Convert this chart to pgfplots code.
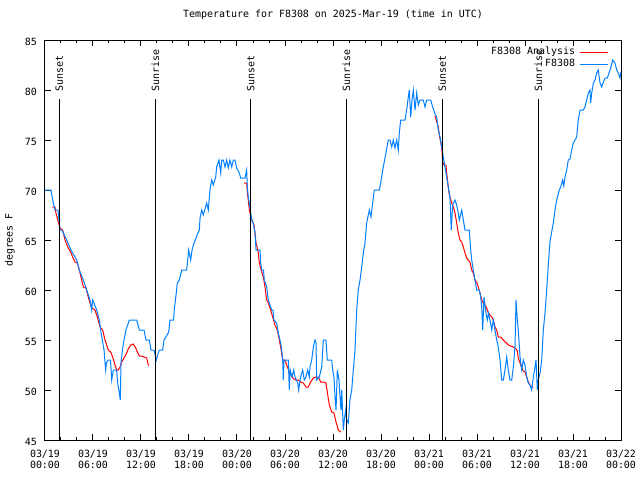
\documentclass[border=0pt]{standalone}
\usepackage{fontspec}
\setmainfont{DejaVu Sans Mono}
\usepackage{pgfplots}
\pgfplotsset{compat=1.18}
\definecolor{obsblue}{RGB}{0,128,255}
\definecolor{anared}{RGB}{255,0,0}
\newcommand{\gfont}{\fontsize{10}{11}\selectfont}
\begin{document}
\begin{tikzpicture}
\begin{axis}[
  at={(0,0)}, anchor=south west,
  scale only axis, width=576bp, height=400bp,
  xmin=0, xmax=72, ymin=45, ymax=85,
  xtick={0,6,...,72},
  xticklabels={{03/19\\00:00},{03/19\\06:00},{03/19\\12:00},{03/19\\18:00},
    {03/20\\00:00},{03/20\\06:00},{03/20\\12:00},{03/20\\18:00},
    {03/21\\00:00},{03/21\\06:00},{03/21\\12:00},{03/21\\18:00},{03/22\\00:00}},
  minor x tick num=2,
  ytick={45,50,...,85},
  /pgf/number format/assume math mode=true,
  tick align=inside,
  major tick length=6bp, minor tick length=3bp,
  tick style={black, line width=1bp},
  axis line style={line width=1bp},
  every tick label/.append style={font=\gfont},
  xticklabel style={align=center, inner sep=0pt, yshift=-9.5bp},
  yticklabel style={inner sep=0pt, xshift=-8bp, yshift=-2bp},
  ylabel={degrees F},
  ylabel style={at={(axis description cs:-0.0608,0.5)}, anchor=center, font=\gfont},
  title={Temperature for F8308 on 2025-Mar-19 (time in UTC)},
  title style={at={(axis description cs:0.5,1.048)}, anchor=center, font=\gfont},
  legend plot pos=right,
  legend cell align=right,
  legend image code/.code={\draw[#1] (0bp,0bp) -- (28bp,0bp);},
  legend style={draw=none, fill=none, at={(axis description cs:0.984,0.99)}, anchor=north east,
    font=\gfont, row sep=0bp,
    nodes={inner sep=1.5bp, text height=7bp, text depth=2bp},
    /tikz/every odd column/.append style={column sep=3bp}},
  every axis plot/.append style={line width=1bp},
]

% F8308 Analysis (three runs)
\addplot[anared] coordinates {
(0.91,68.3)(1.25,68.3)(1.34,67.8)(1.66,66.8)(1.88,66.2)(2.21,66)(2.5,65)(2.91,64.2)
(3.21,63.8)(3.46,63.3)(3.75,62.8)(4.04,62.7)(4.29,62)(4.59,61)(4.79,60.3)(5.12,60.2)
(5.34,59.5)(5.62,58.7)(5.84,58.2)(6.25,58)(6.54,57.3)(6.88,56.3)(7.21,56)(7.5,55)
(7.71,54.5)(7.91,54)(8.21,53.8)(8.46,53.3)(8.75,52.5)(8.96,52)(9.16,52)(9.38,52.3)
(9.59,52.8)(9.88,53.2)(10.21,53.7)(10.41,54.1)(10.71,54.5)(11.04,54.6)(11.34,54.2)
(11.54,53.8)(11.79,53.4)(12.09,53.4)(12.38,53.3)(12.71,53.2)(12.91,52.5)(13.04,52.5)
};
\addplot[anared, forget plot] coordinates {
(24.88,70.7)(25.21,70.7)(25.29,69.8)(25.41,69)(25.54,68)(25.75,67.3)(25.96,66.8)
(26.12,66.5)(26.25,65.7)(26.38,64.7)(26.66,63.8)(26.79,62.7)(27.09,61.8)(27.29,61.3)
(27.5,60.3)(27.71,59)(27.91,58.7)(28.21,58)(28.46,57.3)(28.75,56.5)(29.04,56)
(29.29,55)(29.46,54.3)(29.71,53)(30,53)(30.29,52.3)(30.62,51.7)(30.96,51.2)(31.34,51)
(31.66,51)(31.96,50.8)(32.29,50.7)(32.62,50.3)(32.91,50.3)(33.21,50.8)(33.54,51.2)
(33.88,51.3)(34.16,51.3)(34.46,50.8)(34.79,50.8)(35.12,50.7)(35.29,49.8)(35.54,48.5)
(35.84,47.8)(36.12,47.7)(36.38,46.8)(36.66,46)(37,45.8)
};
\addplot[anared, forget plot] coordinates {
(48.75,77.4)(49.16,76.3)(49.29,75.5)(49.46,74.8)(49.62,74)(49.71,72.8)(49.88,72.5)
(50.12,72.5)(50.21,71.7)(50.41,70.3)(50.54,69.5)(50.84,68.7)(51.04,68.3)(51.25,67.7)
(51.46,66.7)(51.66,65.7)(51.88,65)(52.09,64.8)(52.29,64.3)(52.5,63.7)(52.71,63.2)
(52.91,63)(53.12,62.8)(53.34,62)(53.54,61.7)(53.75,61)(53.96,60.8)(54.16,60.3)
(54.38,59.7)(54.59,59)(54.79,58.7)(55,58.5)(55.21,58.2)(55.41,57.7)(55.62,57.5)
(55.84,57.3)(56.04,57)(56.25,56.3)(56.46,56)(56.66,55.3)(56.96,55.3)(57.29,55)
(57.5,54.8)(57.71,54.7)(57.91,54.5)(58.21,54.4)(58.54,54.3)(58.88,54.1)(59.04,53.9)
(59.16,53.2)(59.38,52.7)(59.59,52.2)(59.79,51.9)(60,51.8)(60.21,51.3)(60.41,50.8)
(60.62,50.5)(60.84,50.3)(61.04,50.3)
};

% F8308 observations
\addplot[obsblue] coordinates {
(0,70)(0.75,70)(0.96,69)(1.25,68)(1.62,68)(1.88,66)(2.12,66)(2.71,65)(3.25,64)
(3.96,63)(4.29,62)(4.79,61)(5.21,60)(5.62,59)(5.83,58)(5.96,59)(6.46,58)(6.79,57)
(6.96,56)(7.38,54)(7.58,52)(7.69,52.7)(7.88,53)(8.19,53)(8.34,51)(8.54,52)(8.94,52)
(9.12,50.5)(9.29,49.7)(9.41,49)(9.5,52.7)(9.71,54.2)(9.88,55)(10.12,56)(10.54,57)
(11.46,57)(11.79,56)(12.38,56)(12.62,55)(13.04,55)(13.25,54)(13.62,54)(13.91,53)
(14.16,53.7)(14.29,54)(14.71,54)(14.88,55)(15.41,55.7)(15.5,56)(15.62,57)(16.06,57)
(16.16,58)(16.38,59.5)(16.54,60.7)(16.79,61)(17.09,62)(17.71,62)(17.84,63)(17.96,64)
(18.21,63)(18.38,64)(18.62,64.7)(18.79,65)(19,65.5)(19.29,66)(19.38,67.2)(19.59,68)
(19.79,67.5)(20.21,68.7)(20.41,68)(20.62,70)(20.84,71)(21.04,70.5)(21.34,71.3)
(21.46,72.3)(21.75,73)(21.96,71.7)(22.09,73)(22.29,73)(22.5,72.3)(22.71,73)(22.91,72.2)
(23.12,73)(23.34,72.3)(23.54,73)(23.75,73)(23.96,72.2)(24.29,71.7)(24.46,71.2)(25,71.2)
(25.21,72)(25.29,70.3)(25.41,69.3)(25.62,68.3)(25.84,67)(26.04,66.7)(26.25,65.7)
(26.38,64)(26.88,64)(26.96,62.7)(27.09,62)(27.31,62)(27.41,61)(27.71,60.3)(27.91,59)
(28.04,58.7)(28.34,58)(28.5,58)(28.62,57)(28.96,56.7)(29.16,55.7)(29.46,54.7)(29.59,54)
(29.71,53)(29.79,51)(29.88,53)(30.41,53)(30.54,50)(30.66,52)(30.88,51.3)(31.09,52)
(31.25,51.3)(31.59,50.7)(31.71,50)(31.88,51)(32.09,51.7)(32.21,52)(32.41,51)(32.62,51.3)
(32.84,52)(33.04,51.3)(33.12,52.3)(33.34,53)(33.54,54.3)(33.75,55)(33.88,54.7)(33.96,51)
(34.29,51.3)(34.59,52.3)(34.79,55)(35.12,55)(35.29,53)(35.84,53)(35.96,52)(36.12,51.3)
(36.25,49.3)(36.38,48)(36.54,52)(36.75,51)(36.88,49.3)(37,48)(37.09,50)(37.29,46)
(37.41,47)(37.59,48)(37.71,47)(37.91,46.7)(38.12,49)(38.34,50)(38.54,52)(38.75,54)
(38.96,58)(39.16,60)(39.38,61)(39.59,62.3)(39.79,63.7)(40,64.7)(40.21,66.7)(40.54,68)
(40.75,67.3)(40.96,68.7)(41.16,70)(41.79,70)(41.96,70.7)(42.16,71.7)(42.38,72.7)
(42.62,73.7)(42.91,75)(43.12,75)(43.34,74.3)(43.54,75)(43.75,74.2)(43.96,75)(44.16,74)
(44.29,75.7)(44.46,77)(45,77)(45.21,78)(45.41,79.3)(45.54,80)(45.71,77.3)(45.88,79)
(46.04,80)(46.25,78)(46.46,79.7)(46.66,78.5)(46.88,79)(47.29,79)(47.5,78.3)(47.71,79)
(48.21,79)(48.46,78.3)(48.75,77.6)(48.96,77.3)(49.16,76)(49.38,75.3)(49.59,74.3)
(49.79,73.3)(50,72.3)(50.21,71.3)(50.41,70.3)(50.62,69.3)(50.78,66)(50.96,68.5)
(51.25,69)(51.46,68.5)(51.66,67.7)(51.79,67)(52.09,68)(52.29,67)(52.5,66)(53.04,66)
(53.21,64)(53.34,63)(53.54,62)(53.75,61)(53.96,60)(54.29,60)(54.46,59.3)(54.59,58.3)
(54.71,56)(54.88,59.3)(55.12,57.7)(55.29,57)(55.44,57.7)(55.62,57)(55.84,56)(56.04,57)
(56.25,56)(56.46,55)(56.66,54.3)(56.88,53)(57.09,51)(57.29,51)(57.5,52)(57.71,53.3)
(57.91,52)(58.12,51)(58.34,51)(58.54,52.3)(58.75,54.3)(58.88,59)(59.04,57)(59.16,56)
(59.38,53.3)(59.59,52)(59.79,53)(60,52.5)(60.21,51.3)(60.41,50.7)(60.62,50.5)(60.84,50)
(61.04,51.3)(61.25,52.3)(61.38,53)(61.54,50)(61.66,51)(61.88,51.7)(62.09,53)(62.29,56)
(62.5,57.7)(62.71,60)(62.91,62.5)(63.12,64.8)(63.38,66)(63.54,66.7)(63.75,68)(63.96,69)
(64.29,70)(64.46,70.3)(64.71,71)(64.85,70.4)(65,71.3)(65.21,72)(65.41,73)(65.62,73.1)
(65.84,74)(66.04,74.7)(66.25,75)(66.46,75.3)(66.66,77)(66.88,78)(67.29,78)(67.5,78.3)
(67.71,79)(67.91,79.7)(68.12,80)(68.21,78.7)(68.34,79.7)(68.54,80.7)(68.75,81)
(68.96,81.7)(69.16,82)(69.38,80.7)(69.59,80.3)(69.75,80.7)(70,81.2)(70.29,81.2)
(70.54,81.8)(70.71,82.2)(70.96,83)(71.25,82.7)(71.46,82)(71.66,81.7)(71.88,81.2)(72,81.8)
};
\legend{F8308 Analysis, F8308}

% sunset / sunrise markers
\foreach \t/\lab in {1.78/Sunset, 13.79/Sunrise, 25.71/Sunset, 37.67/Sunrise, 49.67/Sunset, 61.67/Sunrise} {
  \edef\temp{\noexpand\draw[black, line width=1bp] (axis cs:\t,45) -- (axis cs:\t,79.1);
    \noexpand\node[rotate=90, anchor=west, inner sep=0pt, font=\noexpand\gfont] at (axis cs:\t,79.8) {\lab};}
  \temp
}
\end{axis}
\pgfresetboundingbox
\path[use as bounding box] (-45bp,-40bp) rectangle (595bp,440bp);
\end{tikzpicture}
\end{document}
